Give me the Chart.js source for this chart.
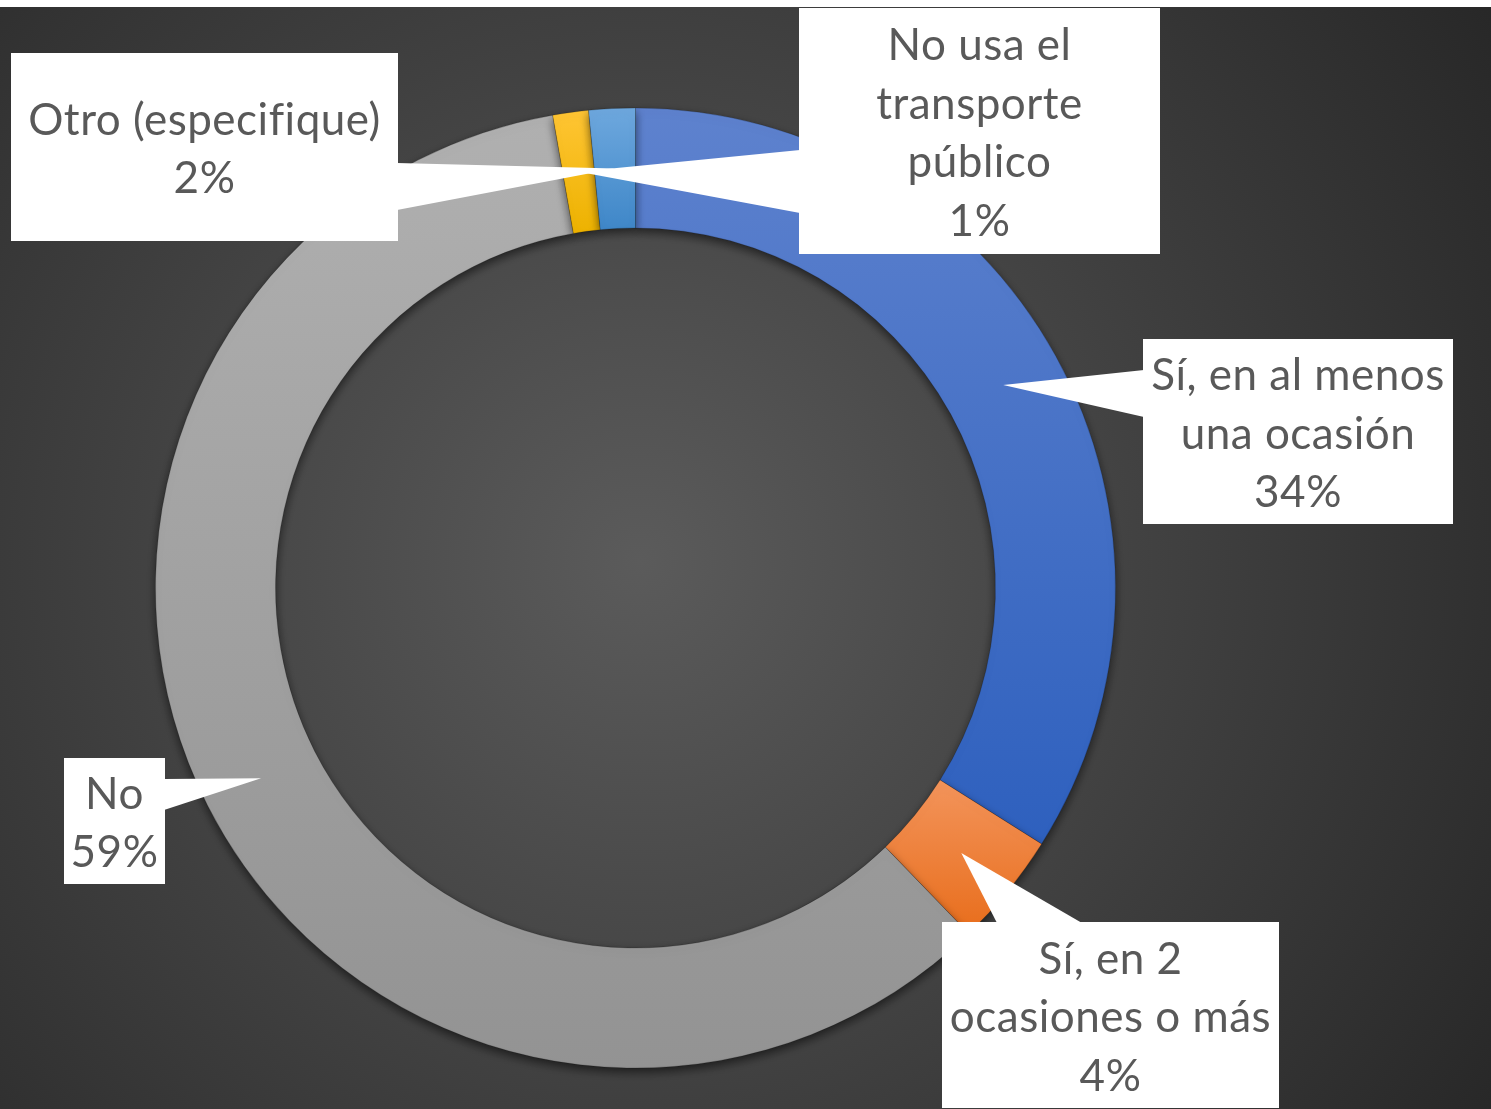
<!DOCTYPE html>
<html><head><meta charset="utf-8">
<script src="https://cdn.jsdelivr.net/npm/chart.js@4/dist/chart.umd.min.js"></script>
<style>
html,body{margin:0;padding:0;background:#fff;overflow:hidden;}
#wrap{position:absolute;left:0;top:7px;width:1491px;height:1102px;}
</style></head><body>
<div id="wrap"><canvas id="c" width="1491" height="1102"></canvas></div>
<script>
// ---- data ----
const categories = ['Sí, en al menos una ocasión', 'Sí, en 2 ocasiones o más', 'No', 'No usa el transporte público', 'Otro (especifique)'];
const labelLines = [['Sí, en al menos', 'una ocasión'], ['Sí, en 2', 'ocasiones o más'], ['No'], ['No usa el', 'transporte', 'público'], ['Otro (especifique)']];
const values = [33.95, 3.84, 59.45, 1.2, 1.56];
const percentLabels = ['34%', '4%', '59%', '1%', '2%'];

// ---- styles ----
const colorsTop = ['#5E82CE', '#F3945B', '#B0B0B0', '#FFC534', '#6EA8DE'];
const colorsBottom = ['#2E60BE', '#E86D1B', '#939393', '#EDB200', '#3F87C8'];
const FONT = '44px Lato';
const LINE_H = 58.5;
// callout boxes (label layout, canvas coordinates)
const calloutBoxes = [
  {x: 1143, y: 332, w: 310, h: 185, side: 'left', a: 31, b: 78},
  {x: 942, y: 915, w: 337, h: 186, side: 'top', a: 55, b: 140},
  {x: 64, y: 751, w: 101, h: 126, side: 'right', a: 21, b: 52},
  {x: 799, y: 1, w: 361, h: 246, side: 'left', a: 142, b: 205},
  {x: 11, y: 46, w: 387, h: 188, side: 'right', a: 110, b: 157}
];

function segGradient(c) {
  const chart = c.chart, area = chart.chartArea, i = c.dataIndex;
  if (!area) return colorsTop[i];
  const cx = (area.left + area.right) / 2, cy = (area.top + area.bottom) / 2;
  const R = Math.min(area.width, area.height) / 2, r = R * 0.75;
  const data = c.dataset.data;
  const total = data.reduce((s, v) => s + v, 0);
  let cum = 0; for (let k = 0; k < i; k++) cum += data[k];
  const a0 = -Math.PI / 2 + 2 * Math.PI * cum / total;
  const a1 = a0 + 2 * Math.PI * data[i] / total;
  const ys = [cy + Math.sin(a0) * R, cy + Math.sin(a1) * R, cy + Math.sin(a0) * r, cy + Math.sin(a1) * r];
  const inRange = t => [t, t + 2 * Math.PI, t - 2 * Math.PI].some(t2 => t2 >= a0 - 1e-9 && t2 <= a1 + 1e-9);
  if (inRange(-Math.PI / 2)) ys.push(cy - R);
  if (inRange(Math.PI / 2)) ys.push(cy + R);
  const g = chart.ctx.createLinearGradient(0, Math.min(...ys), 0, Math.max(...ys));
  g.addColorStop(0, colorsTop[i]);
  g.addColorStop(1, colorsBottom[i]);
  return g;
}

const bgPlugin = {
  id: 'bg',
  beforeDraw(chart) {
    const ctx = chart.ctx;
    const g = ctx.createRadialGradient(640, 553, 0, 640, 553, 1050);
    g.addColorStop(0, '#5B5B5B');
    g.addColorStop(1, '#262626');
    ctx.save();
    ctx.fillStyle = g;
    ctx.fillRect(0, 0, chart.width, chart.height);
    ctx.restore();
  }
};

const shadowPlugin = {
  id: 'shadow',
  beforeDatasetsDraw(chart) {
    const ctx = chart.ctx;
    ctx.save();
    ctx.shadowColor = 'rgba(0,0,0,0.55)';
    ctx.shadowBlur = 10;
    ctx.shadowOffsetX = 0;
    ctx.shadowOffsetY = 4;
  },
  afterDatasetsDraw(chart) { chart.ctx.restore(); }
};

const calloutPlugin = {
  id: 'callouts',
  afterDraw(chart) {
    const ctx = chart.ctx;
    const meta = chart.getDatasetMeta(0);
    ctx.save();
    meta.data.forEach((arc, i) => {
      const box = calloutBoxes[i];
      const tip = arc.getCenterPoint();
      let p1, p2;
      if (box.side === 'left') { p1 = [box.x + 1, box.y + box.a]; p2 = [box.x + 1, box.y + box.b]; }
      else if (box.side === 'right') { p1 = [box.x + box.w - 1, box.y + box.a]; p2 = [box.x + box.w - 1, box.y + box.b]; }
      else { p1 = [box.x + box.a, box.y + 1]; p2 = [box.x + box.b, box.y + 1]; }
      ctx.fillStyle = '#FFFFFF';
      ctx.beginPath();
      ctx.moveTo(p1[0], p1[1]);
      ctx.lineTo(tip.x, tip.y);
      ctx.lineTo(p2[0], p2[1]);
      ctx.closePath();
      ctx.fill();
      ctx.fillRect(box.x, box.y, box.w, box.h);
    });
    meta.data.forEach((arc, i) => {
      const box = calloutBoxes[i];
      const lines = labelLines[i].concat([percentLabels[i]]);
      ctx.fillStyle = '#595959';
      ctx.font = FONT;
      if ('letterSpacing' in ctx) ctx.letterSpacing = '0.5px';
      ctx.textAlign = 'center';
      ctx.textBaseline = 'middle';
      const cx = box.x + box.w / 2;
      const cy = box.y + box.h / 2 + 3;
      lines.forEach((t, k) => {
        ctx.fillText(t, cx, cy + (k - (lines.length - 1) / 2) * LINE_H);
      });
    });
    ctx.restore();
  }
};

new Chart(document.getElementById('c'), {
  type: 'doughnut',
  data: {
    labels: categories,
    datasets: [{
      data: values,
      backgroundColor: segGradient,
      borderColor: 'rgba(0,0,0,0.18)',
      borderWidth: 1,
      hoverOffset: 0,
      offset: 0
    }]
  },
  options: {
    responsive: false,
    animation: false,
    events: [],
    cutout: '75%',
    layout: {padding: {left: 155, right: 375, top: 100, bottom: 40}},
    plugins: {legend: {display: false}, tooltip: {enabled: false}}
  },
  plugins: [bgPlugin, shadowPlugin, calloutPlugin]
});
</script>
</body></html>
